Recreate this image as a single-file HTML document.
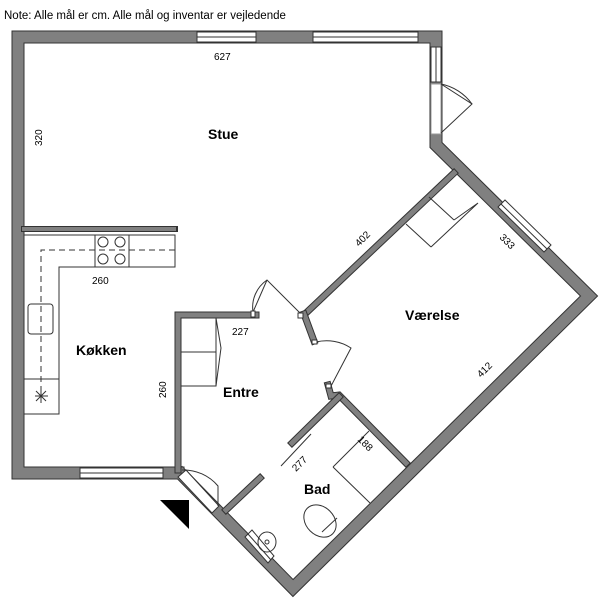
<!DOCTYPE html>
<html><head><meta charset="utf-8"><style>
body{margin:0;background:#fff;width:600px;height:600px;overflow:hidden}
svg{display:block}
text{font-family:"Liberation Sans",sans-serif;fill:#000}
</style></head><body>
<svg width="600" height="600" viewBox="0 0 600 600">
<text x="4" y="19" font-size="11.5">Note: Alle mål er cm. Alle mål og inventar er vejledende</text>
<g fill="none" stroke-linejoin="miter" stroke-linecap="square">
<polyline points="178,473 18,473 18,37 436,37 436,145 589,296 293,588 182,475" stroke="#333" stroke-width="13"/>
<polyline points="178,473 18,473 18,37 436,37 436,145 589,296 293,588 182,475" stroke="#808080" stroke-width="11"/>
<line x1="24" y1="229" x2="175" y2="229" stroke="#333" stroke-width="6"/>
<line x1="24" y1="229" x2="174" y2="229" stroke="#808080" stroke-width="4"/>
<polyline points="178,470 178,315 256,315" stroke="#333" stroke-width="7"/>
<polyline points="178,470 178,315 256,315" stroke="#808080" stroke-width="5"/>
<line x1="454" y1="173" x2="306" y2="313" stroke="#333" stroke-width="7"/>
<line x1="454" y1="173" x2="306" y2="313" stroke="#808080" stroke-width="5"/>
<line x1="304" y1="314" x2="314" y2="341" stroke="#333" stroke-width="7"/>
<line x1="304" y1="314" x2="314" y2="341" stroke="#808080" stroke-width="5"/>
<polyline points="328,385 331,396 339,395 406,463" stroke="#333" stroke-width="7"/>
<polyline points="328,385 331,396 339,395 406,463" stroke="#808080" stroke-width="5"/>
<line x1="339" y1="397" x2="292" y2="443" stroke="#333" stroke-width="7"/>
<line x1="339" y1="397" x2="292" y2="443" stroke="#808080" stroke-width="5"/>
<line x1="260" y1="478" x2="226" y2="510" stroke="#333" stroke-width="7"/>
<line x1="260" y1="478" x2="226" y2="510" stroke="#808080" stroke-width="5"/>
</g>
<g fill="#fff" stroke="#333" stroke-width="1">
<rect x="197" y="32" width="59" height="10"/><line x1="197" y1="37" x2="256" y2="37"/>
<rect x="313" y="32" width="105" height="10"/><line x1="313" y1="37" x2="418" y2="37"/>
<rect x="431" y="47" width="10" height="35"/><line x1="436" y1="47" x2="436" y2="82"/>
<rect x="431" y="84" width="10" height="50" stroke="#999"/>
<rect x="80" y="468" width="83" height="10"/><line x1="80" y1="473" x2="163" y2="473"/>
</g>
<polygon points="498,207 505,200 551,245 544,252" fill="#fff" stroke="#333"/>
<line x1="501" y1="204" x2="547" y2="249" stroke="#333"/>
<polygon points="245,537 252,530 274,556 268,563" fill="#fff" stroke="#333"/>
<line x1="248" y1="534" x2="271" y2="560" stroke="#333"/>
<polygon points="178,477 186,470 219,506 212,513" fill="#fff" stroke="#333"/>
<g fill="none" stroke="#333" stroke-width="1">
<path d="M441,84 L472,104 L441,133"/>
<path d="M441,84 A50,50 0 0 1 472,104"/>
<path d="M182,470 A45,45 0 0 1 218,486 L218,506"/>
<line x1="253" y1="312" x2="267" y2="280"/>
<path d="M253,312 A33,33 0 0 1 267,280 L300,313"/>
<path d="M316,342 A45,45 0 0 1 351,348 L330,388"/>
<!-- wardrobe bedroom -->
<line x1="429" y1="197" x2="454" y2="220"/>
<line x1="406" y1="224" x2="431" y2="247"/>
<path d="M431,247 L478,203 M454,220 L478,203"/>
<polyline points="24,235 175,235 175,267 59,267 59,414 24,414"/>
<rect x="95" y="235" width="34" height="32"/>
<circle cx="103" cy="242" r="5"/><circle cx="120" cy="242" r="5"/>
<circle cx="103" cy="259" r="5"/><circle cx="120" cy="259" r="5"/>
<polyline points="175,250 41,250 41,393" stroke-dasharray="6,4"/>
<rect x="28" y="304" width="25" height="30" rx="3"/>
<line x1="24" y1="379" x2="59" y2="379"/>
<path d="M35,396 L48,396 M41,389 L41,403 M36,391 L46,401 M46,391 L36,401"/>
<rect x="181" y="318" width="35" height="68"/>
<line x1="181" y1="352" x2="216" y2="352"/>
<path d="M216,318 L221,348 L216,386"/>
<line x1="281" y1="466" x2="311" y2="434"/>
<line x1="369" y1="431" x2="333" y2="467"/>
<line x1="333" y1="467" x2="370" y2="503"/>
<ellipse cx="320" cy="521" rx="14" ry="18" transform="rotate(-45 320 521)"/>
<line x1="322" y1="532" x2="337" y2="518"/>
<ellipse cx="267" cy="542" rx="9" ry="10"/>
<circle cx="267" cy="542" r="2"/>
</g>
<g fill="#fff" stroke="#333"><rect x="251" y="311" width="4" height="6"/><rect x="298" y="313" width="5" height="5"/><rect x="312" y="340" width="5" height="4"/><rect x="326" y="384" width="5" height="4"/></g>
<polygon points="160,500 189,500 189,529" fill="#000"/>
<g font-size="14" font-weight="bold">
<text x="208" y="139">Stue</text><text x="76" y="355">Køkken</text><text x="223" y="397">Entre</text><text x="405" y="320">Værelse</text><text x="304" y="494">Bad</text>
</g>
<g font-size="10">
<text x="214" y="60">627</text>
<text x="92" y="284">260</text>
<text x="232" y="335">227</text>
<text transform="translate(42,146) rotate(-90)">320</text>
<text transform="translate(166,398) rotate(-90)">260</text>
<text transform="translate(359,247) rotate(-45)">402</text>
<text transform="translate(499,238) rotate(45)">333</text>
<text transform="translate(481,378) rotate(-45)">412</text>
<text transform="translate(357,440) rotate(45)">188</text>
<text transform="translate(296,472) rotate(-45)">277</text>
</g>
</svg>
</body></html>
